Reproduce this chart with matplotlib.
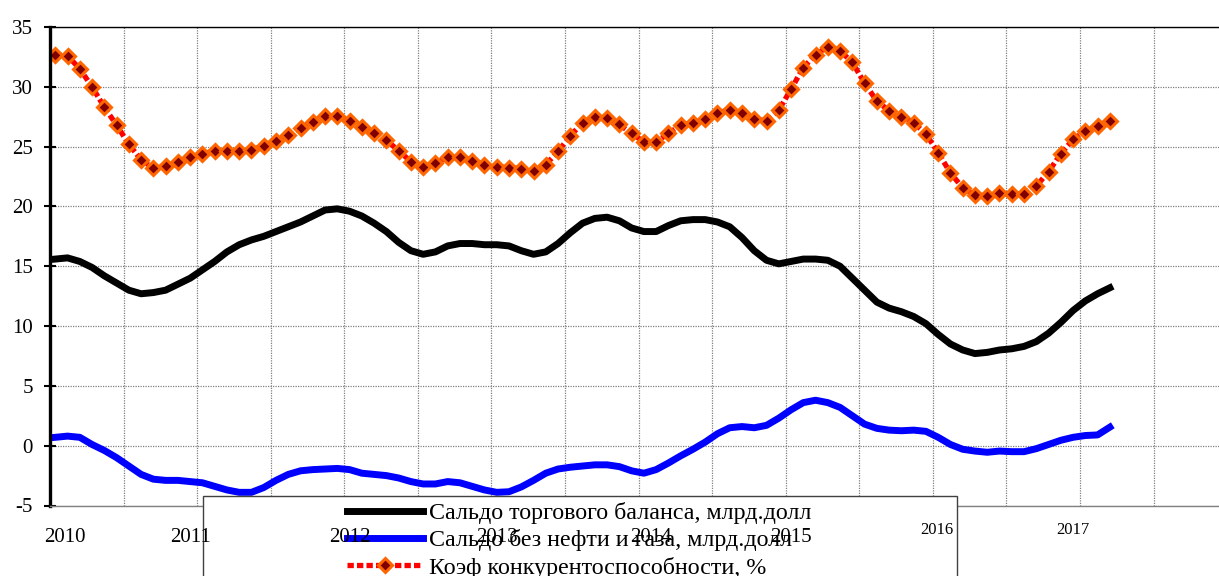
import matplotlib
matplotlib.use("Agg")
import matplotlib.pyplot as plt
import matplotlib.transforms as mtransforms
from matplotlib.patches import Rectangle
import numpy as np

plt.rcParams["font.family"] = ["Liberation Serif", "DejaVu Serif"]
plt.rcParams["axes.unicode_minus"] = False

# monthly data, Jan 2010 .. Mar 2017
trade_balance = [
    15.6, 15.7, 15.4, 14.9, 14.2, 13.6, 13.0, 12.7, 12.8, 13.0,
    13.5, 14.0, 14.7, 15.4, 16.2, 16.8, 17.2, 17.5, 17.9, 18.3,
    18.7, 19.2, 19.7, 19.8, 19.6, 19.2, 18.6, 17.9, 17.0, 16.3,
    16.0, 16.2, 16.7, 16.9, 16.9, 16.8, 16.8, 16.7, 16.3, 16.0,
    16.2, 16.9, 17.8, 18.6, 19.0, 19.1, 18.8, 18.2, 17.9, 17.9,
    18.4, 18.8, 18.9, 18.9, 18.7, 18.3, 17.4, 16.3, 15.5, 15.2,
    15.4, 15.6, 15.6, 15.5, 15.0, 14.0, 13.0, 12.0, 11.5, 11.2,
    10.8, 10.2, 9.3, 8.5, 8.0, 7.7, 7.8, 8.0, 8.1, 8.3,
    8.7, 9.4, 10.3, 11.3, 12.1, 12.7, 13.2,
]
non_oil_balance = [
    0.7, 0.8, 0.7, 0.1, -0.4, -1.0, -1.7, -2.4, -2.8, -2.9,
    -2.9, -3.0, -3.1, -3.4, -3.7, -3.9, -3.9, -3.5, -2.9, -2.4,
    -2.1, -2.0, -1.95, -1.9, -2.0, -2.3, -2.4, -2.5, -2.7, -3.0,
    -3.2, -3.2, -3.0, -3.1, -3.4, -3.7, -3.9, -3.85, -3.45, -2.9,
    -2.3, -1.95, -1.8, -1.7, -1.6, -1.6, -1.75, -2.1, -2.3, -2.0,
    -1.45, -0.85, -0.3, 0.3, 1.0, 1.5, 1.6, 1.5, 1.7, 2.3,
    3.0, 3.6, 3.8, 3.6, 3.2, 2.5, 1.8, 1.45, 1.3, 1.25,
    1.3, 1.2, 0.7, 0.1, -0.3, -0.45, -0.55, -0.45, -0.5, -0.5,
    -0.25, 0.1, 0.45, 0.7, 0.85, 0.9, 1.55,
]
competitiveness = [
    32.7, 32.6, 31.5, 30.0, 28.3, 26.8, 25.2, 23.9, 23.2, 23.35,
    23.7, 24.1, 24.4, 24.65, 24.6, 24.6, 24.75, 25.05, 25.45, 25.95,
    26.55, 27.1, 27.55, 27.55, 27.15, 26.6, 26.15, 25.55, 24.65, 23.75,
    23.3, 23.6, 24.1, 24.15, 23.8, 23.5, 23.3, 23.25, 23.15, 23.0,
    23.5, 24.6, 25.9, 27.0, 27.5, 27.4, 26.85, 26.1, 25.4, 25.4,
    26.1, 26.8, 27.0, 27.3, 27.8, 28.1, 27.8, 27.3, 27.15, 28.05,
    29.8, 31.6, 32.7, 33.35, 33.0, 32.05, 30.3, 28.8, 28.0, 27.5,
    27.0, 26.05, 24.5, 22.8, 21.55, 20.95, 20.9, 21.1, 21.0, 21.05,
    21.7, 22.9, 24.4, 25.6, 26.3, 26.75, 27.15,
]
months = np.arange(len(trade_balance))

series_labels = [
    "Сальдо торгового баланса, млрд.долл",
    "Сальдо без нефти и газа, млрд.долл",
    "Коэф конкурентоспособности, %",
]

year_labels = ["2010", "2011", "2012", "2013", "2014", "2015", "2016", "2017"]
year_pos = [0.8, 11.05, 24.0, 36.05, 48.55, 60.0, 71.9, 83.0]

fig = plt.figure(figsize=(12.19, 5.76), dpi=100)
ax = fig.add_axes([50 / 1219, 1 - 505.5 / 576, 1 - 50 / 1219, 478.5 / 576])

ax.plot(months, trade_balance, color="black", lw=5, label=series_labels[0])
ax.plot(months, non_oil_balance, color="#0000FF", lw=5, label=series_labels[1])
ax.plot(months, competitiveness, color="red", lw=3.8, ls=(0, (1.2, 0.6)),
        gapcolor="white", marker="D", ms=7.5, mfc="#800000", mec="#FF6600",
        mew=2.2, label=series_labels[2])

ax.set_xlim(-0.43, 94.9)
ax.set_ylim(-5, 35)
ax.set_yticks(range(-5, 40, 5))
ax.set_xticks(np.arange(-0.43, 95, 6))
ax.grid(True, color="#808080", ls=(0, (1, 1)), lw=0.9)
ax.tick_params(axis="x", length=0, labelbottom=False)
ax.tick_params(axis="y", direction="inout", length=8.6, width=1.5,
               labelsize=15, pad=8)

ax.spines["left"].set_linewidth(2.4)
ax.spines["top"].set_linewidth(1)
ax.spines["right"].set_visible(False)
ax.spines["bottom"].set_color("#808080")
ax.spines["bottom"].set_linewidth(1)

# legend box (sticks out below the figure)
box = Rectangle((203 / 1219, -0.3), 754 / 1219, 0.3 + 80 / 576,
                transform=fig.transFigure, facecolor="white",
                edgecolor="#404040", lw=1, zorder=5.5, clip_on=False)
ax.add_artist(box)

leg = ax.legend(loc="upper left", bbox_to_anchor=(347 / 1219, 1 - 502 / 576),
                bbox_transform=fig.transFigure, frameon=False, fontsize=17.3,
                handlelength=3.17, handletextpad=0.25, labelspacing=0.22,
                borderpad=0, borderaxespad=0)
leg.set_zorder(6)

# year labels drawn over the legend
trans = mtransforms.blended_transform_factory(ax.transData, ax.transAxes)
for lbl, pos in zip(year_labels, year_pos):
    small = lbl in ("2016", "2017")
    ax.text(pos, -0.052 if small else -0.066, lbl, transform=trans,
            ha="center", va="center", fontsize=12 if small else 15,
            zorder=10, clip_on=False)

fig.savefig("out.png", dpi=100)
